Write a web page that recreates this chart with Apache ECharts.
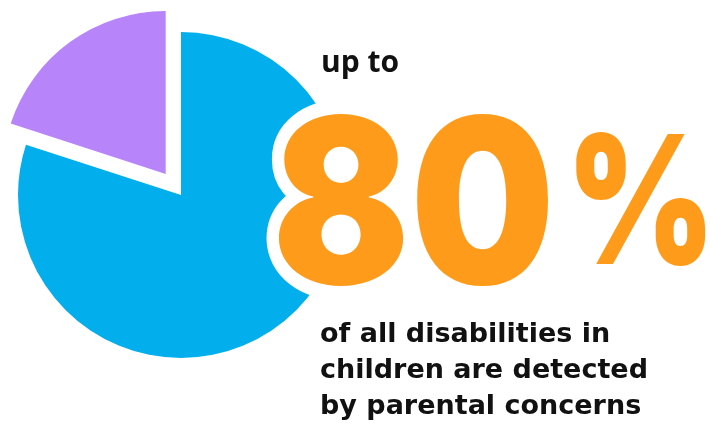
<!DOCTYPE html>
<html lang="en">
<head>
    <meta charset="UTF-8">
    <title>80% of disabilities</title>
    <style>
        html, body { margin: 0; padding: 0; background: #fff; }
    </style>
</head>
<body>
    <div id="card" style="width: 711px;height:440px;"></div>
    <script src="https://cdn.jsdelivr.net/npm/echarts@6/dist/echarts.min.js"></script>
    <script>
        // pie slices
        var categories = ['detected by parental concerns', 'other'];
        var values = [80, 20];
        var sliceColors = ['#03aeec', '#b884f9'];
        // texts
        var bigNumber = '80';
        var bigUnit = '%';
        var topText = 'up to';
        var bottomLines = ['of all disabilities in', 'children are detected', 'by parental concerns'];

        var pieData = [];
        for (var i = 0; i < categories.length; i++) {
            pieData.push({
                name: categories[i],
                value: values[i],
                selected: i === 1,
                itemStyle: { color: sliceColors[i] }
            });
        }

        var bigStyle = {
            fill: '#ff9b1b',
            stroke: '#fff',
            lineWidth: 28,
            fontFamily: 'Inter',
            fontWeight: 900,
            verticalAlign: 'middle',
            shadowColor: 'rgba(0,40,70,0.65)',
            shadowBlur: 12,
            shadowOffsetX: -2
        };

        var option = {
            backgroundColor: '#fff',
            animation: false,
            series: [{
                type: 'pie',
                center: [181, 195],
                radius: [0, 163],
                startAngle: 90,
                selectedMode: 'single',
                selectedOffset: 26,
                label: { show: false },
                labelLine: { show: false },
                emphasis: { scale: false },
                data: pieData
            }],
            graphic: [{
                // white backing so the counters of the 8 stay white over the pie
                type: 'ellipse',
                z: 90,
                shape: { cx: 339, cy: 202, rx: 30, ry: 60 },
                style: { fill: '#fff' }
            }, {
                type: 'text',
                z: 100,
                left: 321,
                top: 48,
                style: {
                    text: topText,
                    fill: '#111',
                    font: 'bold 30px "Open Sans"'
                }
            }, {
                type: 'text',
                z: 100,
                x: 272,
                y: 215,
                scaleX: 0.885,
                style: Object.assign({ text: bigNumber, fontSize: 230 }, bigStyle)
            }, {
                type: 'text',
                z: 100,
                x: 566,
                y: 210,
                scaleX: 0.8,
                style: Object.assign({ text: bigUnit, fontSize: 179 }, bigStyle)
            }, {
                type: 'text',
                z: 100,
                left: 320,
                top: 317,
                style: {
                    text: bottomLines.join('\n'),
                    fill: '#111',
                    font: 'bold 27px "DejaVu Sans"',
                    lineHeight: 36
                }
            }]
        };

        var myChart = echarts.init(document.querySelector('#card'));
        myChart.setOption(option);
    </script>
</body>
</html>
